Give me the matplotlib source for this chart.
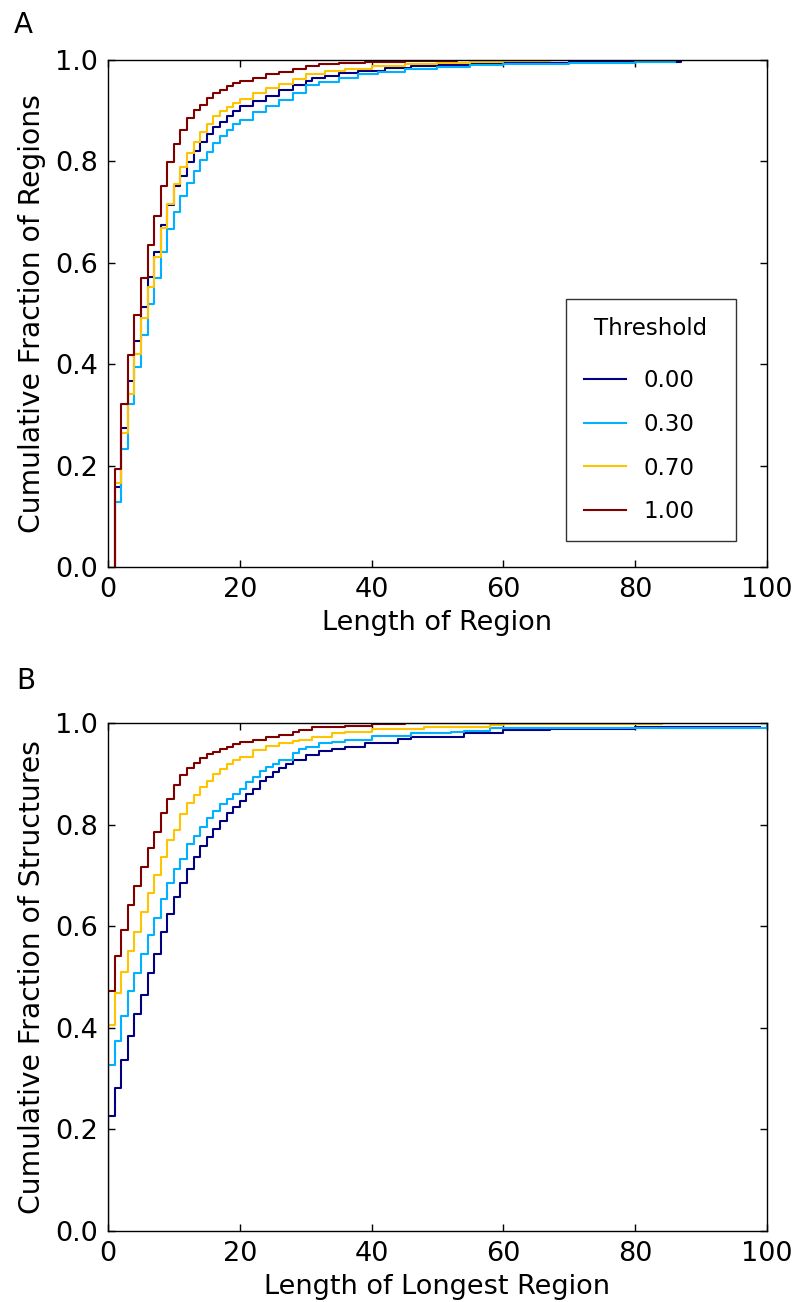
import numpy as np
import matplotlib
matplotlib.use("Agg")
import matplotlib.pyplot as plt

thresholds = [0.00, 0.30, 0.70, 1.00]
threshold_labels = ["0.00", "0.30", "0.70", "1.00"]

# ---------------- Panel A: Cumulative fraction of regions vs length ----------------
a_x_000 = list(range(1, 21)) + [22, 24, 26, 28, 30, 31, 33, 35, 38, 42, 46, 50, 55, 60, 70, 85, 87]
a_y_000 = [0.157, 0.274, 0.366, 0.445, 0.513, 0.572, 0.621, 0.674, 0.714, 0.752,
           0.772, 0.799, 0.821, 0.838, 0.854, 0.867, 0.877, 0.890, 0.900, 0.909,
           0.920, 0.930, 0.940, 0.950, 0.959, 0.964, 0.969, 0.974, 0.979, 0.9835,
           0.988, 0.990, 0.992, 0.995, 0.996, 0.997, 1.0]

a_x_030 = list(range(1, 21)) + [22, 24, 26, 28, 30, 32, 35, 38, 41, 45, 50, 55, 60, 70, 80, 86]
a_y_030 = [0.129, 0.232, 0.322, 0.394, 0.457, 0.518, 0.570, 0.621, 0.667, 0.701,
           0.731, 0.758, 0.782, 0.802, 0.819, 0.836, 0.850, 0.862, 0.873, 0.882,
           0.898, 0.910, 0.922, 0.935, 0.951, 0.957, 0.965, 0.972, 0.977, 0.982,
           0.986, 0.990, 0.993, 0.995, 0.997, 1.0]

a_x_070 = list(range(1, 21)) + [22, 24, 26, 28, 30, 33, 36, 40, 45, 50, 55, 60, 67]
a_y_070 = [0.166, 0.264, 0.342, 0.421, 0.492, 0.552, 0.611, 0.668, 0.716, 0.755,
           0.789, 0.816, 0.838, 0.858, 0.873, 0.889, 0.900, 0.907, 0.916, 0.924,
           0.935, 0.945, 0.953, 0.962, 0.972, 0.978, 0.983, 0.988, 0.992, 0.995,
           0.997, 0.998, 1.0]

a_x_100 = list(range(1, 21)) + [22, 24, 26, 28, 30, 32, 35, 39, 45, 53]
a_y_100 = [0.194, 0.322, 0.418, 0.498, 0.570, 0.636, 0.693, 0.752, 0.799, 0.835,
           0.862, 0.886, 0.902, 0.911, 0.926, 0.934, 0.941, 0.949, 0.955, 0.959,
           0.965, 0.972, 0.977, 0.983, 0.988, 0.9915, 0.9935, 0.996, 0.998, 1.0]

# ---------------- Panel B: Cumulative fraction of structures vs longest region ----------------
b_x_000 = list(range(0, 29)) + [30, 32, 34, 36, 39, 44, 46, 54, 60, 67, 80, 99]
b_y_000 = [0.227, 0.282, 0.337, 0.384, 0.427, 0.465, 0.507, 0.545, 0.589, 0.624,
           0.657, 0.686, 0.713, 0.737, 0.757, 0.776, 0.792, 0.808, 0.823, 0.835,
           0.847, 0.861, 0.871, 0.885, 0.894, 0.903, 0.912, 0.920, 0.928,
           0.937, 0.944, 0.948, 0.953, 0.960, 0.968, 0.973, 0.980, 0.986, 0.989,
           0.992, 0.992]

b_x_030 = list(range(0, 27)) + [28, 29, 30, 32, 34, 36, 40, 46, 52, 54, 58, 100]
b_y_030 = [0.327, 0.375, 0.424, 0.472, 0.507, 0.545, 0.583, 0.616, 0.654, 0.686,
           0.713, 0.733, 0.761, 0.778, 0.795, 0.813, 0.827, 0.840, 0.851, 0.861,
           0.871, 0.884, 0.894, 0.905, 0.913, 0.920, 0.927,
           0.940, 0.949, 0.952, 0.960, 0.963, 0.967, 0.975, 0.980, 0.983, 0.985,
           0.9895, 1.0]

b_x_070 = list(range(0, 21)) + [22, 24, 26, 28, 29, 31, 34, 36, 40, 42, 48, 58, 60, 84]
b_y_070 = [0.406, 0.469, 0.510, 0.551, 0.589, 0.627, 0.666, 0.700, 0.737, 0.769,
           0.790, 0.820, 0.842, 0.859, 0.875, 0.885, 0.900, 0.909, 0.920, 0.927,
           0.934, 0.947, 0.955, 0.961, 0.965, 0.967, 0.973, 0.980, 0.983, 0.9876,
           0.989, 0.9927, 0.996, 0.998, 1.0]

b_x_100 = list(range(0, 21)) + [22, 24, 26, 28, 29, 31, 36, 40, 45, 60]
b_y_100 = [0.472, 0.541, 0.593, 0.641, 0.679, 0.717, 0.754, 0.786, 0.823, 0.851,
           0.878, 0.898, 0.912, 0.922, 0.932, 0.938, 0.943, 0.948, 0.953, 0.958,
           0.962, 0.966, 0.972, 0.977, 0.982, 0.986, 0.9915, 0.9947, 0.9974, 1.0, 1.0]

panel_a = [(a_x_000, a_y_000), (a_x_030, a_y_030), (a_x_070, a_y_070), (a_x_100, a_y_100)]
panel_b = [(b_x_000, b_y_000), (b_x_030, b_y_030), (b_x_070, b_y_070), (b_x_100, b_y_100)]

x_ticks = [0, 20, 40, 60, 80, 100]
y_ticks = [0.0, 0.2, 0.4, 0.6, 0.8, 1.0]

plt.rcParams['font.family'] = ['DejaVu Sans']
plt.rcParams['axes.linewidth'] = 1.0

fig = plt.figure(figsize=(7.94, 13.02), dpi=100)
axA = fig.add_axes([0.136, 0.5645, 0.830, 0.3894])
axB = fig.add_axes([0.136, 0.0545, 0.830, 0.3902])

cmap = plt.cm.jet
FS = 19.5

def draw(ax, data, ylabel, xlabel):
    handles = []
    for (xs, ys), t, lab in zip(data, thresholds, threshold_labels):
        xs = np.r_[xs[0], np.asarray(xs, float)]
        ys = np.r_[0.0, np.asarray(ys, float)]
        h, = ax.step(xs, ys, where='post', color=cmap(t), lw=1.5, label=lab)
        handles.append(h)
    ax.set_xlim(0, 100)
    ax.set_ylim(0, 1.0)
    ax.set_xticks(x_ticks)
    ax.set_yticks(y_ticks)
    ax.set_xticklabels([str(v) for v in x_ticks])
    ax.set_yticklabels([f"{v:.1f}" for v in y_ticks])
    ax.tick_params(direction='in', top=True, right=True, length=5, width=1,
                   labelsize=FS, pad=7)
    ax.set_ylabel(ylabel, fontsize=20.3, labelpad=7)
    ax.set_xlabel(xlabel, fontsize=FS, labelpad=5)
    return handles

hA = draw(axA, panel_a, "Cumulative Fraction of Regions", "Length of Region")
draw(axB, panel_b, "Cumulative Fraction of Structures", "Length of Longest Region")

leg = axA.legend(handles=hA, title="Threshold", loc='lower left',
                 bbox_to_anchor=(0.695, 0.0513, 0.258, 0.0), mode='expand',
                 fontsize=16.5, title_fontsize=16.5,
                 frameon=True, fancybox=False, shadow=False, labelspacing=0.9,
                 handlelength=1.85, handletextpad=0.75, borderpad=0.78, borderaxespad=0)
leg.get_frame().set_edgecolor('black')
leg.get_frame().set_linewidth(1.0)
leg._legend_box.sep = 21

fig.text(14 / 794, 1 - 25 / 1302, "A", fontsize=20, va='center', ha='left')
fig.text(16 / 794, 1 - 681 / 1302, "B", fontsize=20, va='center', ha='left')

fig.savefig("out.png", dpi=100, facecolor='white')
